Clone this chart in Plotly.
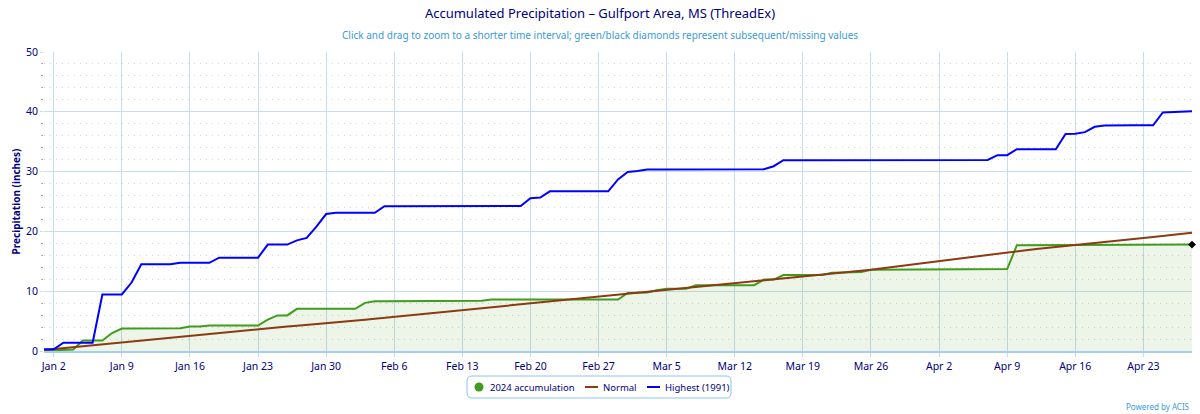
import pandas as pd
import plotly.graph_objects as go

start_date = "2024-01-01"
end_date = "2024-04-28"
dates = pd.date_range(start_date, end_date, freq="D")

accum_2024 = [
    0.05, 0.10, 0.25, 0.25, 1.75, 1.75, 1.75, 3.00, 3.75, 3.75,
    3.75, 3.75, 3.75, 3.75, 3.80, 4.10, 4.10, 4.25, 4.25, 4.25,
    4.25, 4.25, 4.25, 5.25, 5.95, 5.95, 7.05, 7.05, 7.05, 7.05,
    7.05, 7.05, 7.05, 8.05, 8.30, 8.30, 8.30, 8.30, 8.32, 8.33,
    8.35, 8.35, 8.35, 8.40, 8.40, 8.40, 8.60, 8.60, 8.60, 8.60,
    8.60, 8.60, 8.60, 8.60, 8.60, 8.60, 8.60, 8.60, 8.60, 8.60,
    9.70, 9.70, 9.80, 10.15, 10.40, 10.40, 10.40, 11.00, 11.00, 11.00,
    11.00, 11.00, 11.00, 11.00, 11.95, 11.95, 12.70, 12.70, 12.70, 12.70,
    12.70, 13.10, 13.15, 13.20, 13.20, 13.60, 13.60, 13.60, 13.60, 13.60,
    13.60, 13.60, 13.60, 13.60, 13.60, 13.60, 13.60, 13.65, 13.70, 13.70,
    17.70, 17.70, 17.70, 17.70, 17.70, 17.70, 17.70, 17.70, 17.70, 17.70,
    17.80, 17.80, 17.80, 17.80, 17.80, 17.80, 17.80, 17.80, 17.80,
]

normal = [
    0.17, 0.33, 0.50, 0.66, 0.83, 1.00, 1.16, 1.33, 1.50, 1.66,
    1.81, 1.97, 2.13, 2.28, 2.44, 2.60, 2.75, 2.91, 3.07, 3.22,
    3.38, 3.54, 3.70, 3.83, 3.96, 4.09, 4.22, 4.35, 4.48, 4.61,
    4.77, 4.92, 5.08, 5.24, 5.39, 5.55, 5.71, 5.86, 6.02, 6.18,
    6.33, 6.49, 6.65, 6.80, 6.96, 7.12, 7.27, 7.43, 7.59, 7.74,
    7.90, 8.06, 8.22, 8.39, 8.55, 8.71, 8.87, 9.04, 9.20, 9.36,
    9.52, 9.68, 9.85, 10.01, 10.17, 10.33, 10.49, 10.66, 10.82, 10.98,
    11.14, 11.30, 11.46, 11.63, 11.79, 11.95, 12.12, 12.28, 12.45, 12.61,
    12.78, 12.94, 13.11, 13.27, 13.44, 13.60, 13.81, 14.02, 14.23, 14.44,
    14.65, 14.86, 15.07, 15.28, 15.49, 15.70, 15.91, 16.12, 16.33, 16.54,
    16.72, 16.89, 17.07, 17.24, 17.42, 17.59, 17.77, 17.93, 18.09, 18.26,
    18.42, 18.58, 18.75, 18.91, 19.08, 19.25, 19.42, 19.59, 19.76,
]

highest_1991 = [
    0.30, 0.30, 1.40, 1.40, 1.40, 1.40, 9.45, 9.45, 9.45, 11.45,
    14.50, 14.50, 14.50, 14.50, 14.75, 14.75, 14.75, 14.75, 15.60, 15.60,
    15.60, 15.60, 15.60, 17.80, 17.80, 17.80, 18.50, 18.90, 20.80, 22.90,
    23.10, 23.10, 23.10, 23.10, 23.10, 24.20, 24.20, 24.20, 24.20, 24.20,
    24.20, 24.20, 24.22, 24.25, 24.25, 24.25, 24.25, 24.25, 24.25, 24.25,
    25.55, 25.65, 26.70, 26.70, 26.70, 26.70, 26.70, 26.70, 26.70, 28.70,
    29.95, 30.10, 30.35, 30.35, 30.35, 30.35, 30.35, 30.35, 30.35, 30.35,
    30.35, 30.35, 30.40, 30.40, 30.40, 30.90, 31.90, 31.90, 31.90, 31.90,
    31.90, 31.95, 31.95, 31.95, 31.95, 31.95, 31.95, 31.95, 31.95, 31.95,
    31.95, 31.95, 31.95, 31.95, 31.95, 31.95, 31.95, 31.95, 32.75, 32.75,
    33.75, 33.75, 33.75, 33.75, 33.75, 36.30, 36.35, 36.60, 37.50, 37.70,
    37.75, 37.75, 37.75, 37.75, 37.75, 39.90, 40.00, 40.05, 40.10,
]

series_names = ["2024 accumulation", "Normal", "Highest (1991)"]
series_colors = ["#3f9c1c", "#8b3a12", "#0000ff"]
y_ticks = [0, 10, 20, 30, 40, 50]

NAVY = "#000080"
GRID = "#c6dcef"
LIGHTBLUE = "#3a9ad9"
FONT = "Noto Sans, Open Sans, DejaVu Sans, sans-serif"

# plot-area geometry (pixels) used to place the hand-built legend box
L, R, T, B = 44, 1192, 52, 351


def px_x(px):
    return (px - L) / (R - L)


def px_y(py):
    return (B - py) / (B - T)


fig = go.Figure()

fig.add_trace(go.Scatter(
    x=dates, y=accum_2024, mode="lines", name=series_names[0],
    line=dict(color=series_colors[0], width=2), fill="tozeroy",
    fillcolor="rgba(80,160,40,0.11)",
))
fig.add_trace(go.Scatter(
    x=dates, y=normal, mode="lines", name=series_names[1],
    line=dict(color=series_colors[1], width=2),
))
fig.add_trace(go.Scatter(
    x=dates, y=highest_1991, mode="lines", name=series_names[2],
    line=dict(color=series_colors[2], width=2),
))
fig.add_trace(go.Scatter(
    x=[dates[-1]], y=[accum_2024[-1]], mode="markers", name="missing",
    marker=dict(color="black", size=6, symbol="diamond"), cliponaxis=False,
))

# legend (drawn as shapes + text to match the compact original layout)
bx0, bx1, by0, by1, r = 467, 731, 376, 398, 5
box_path = (
    f"M {px_x(bx0 + r)},{px_y(by0)} L {px_x(bx1 - r)},{px_y(by0)} "
    f"Q {px_x(bx1)},{px_y(by0)} {px_x(bx1)},{px_y(by0 + r)} "
    f"L {px_x(bx1)},{px_y(by1 - r)} Q {px_x(bx1)},{px_y(by1)} {px_x(bx1 - r)},{px_y(by1)} "
    f"L {px_x(bx0 + r)},{px_y(by1)} Q {px_x(bx0)},{px_y(by1)} {px_x(bx0)},{px_y(by1 - r)} "
    f"L {px_x(bx0)},{px_y(by0 + r)} Q {px_x(bx0)},{px_y(by0)} {px_x(bx0 + r)},{px_y(by0)} Z"
)
cy = 387
shapes = [
    dict(type="path", xref="paper", yref="paper", path=box_path,
         line=dict(color="#8cc4ea", width=1), fillcolor="white"),
    dict(type="circle", xref="paper", yref="paper",
         x0=px_x(474.5), x1=px_x(483.5), y0=px_y(cy + 4.5), y1=px_y(cy - 4.5),
         fillcolor=series_colors[0], line=dict(width=0)),
    dict(type="line", xref="paper", yref="paper",
         x0=px_x(585), x1=px_x(598), y0=px_y(cy), y1=px_y(cy),
         line=dict(color=series_colors[1], width=2)),
    dict(type="line", xref="paper", yref="paper",
         x0=px_x(647), x1=px_x(660), y0=px_y(cy), y1=px_y(cy),
         line=dict(color=series_colors[2], width=2)),
]
legend_text = [(488, series_names[0]), (601, series_names[1]), (663, series_names[2])]

annotations = [
    dict(
        text="Click and drag to zoom to a shorter time interval; green/black diamonds represent subsequent/missing values",
        xref="paper", yref="paper", x=px_x(600), y=1,
        xanchor="center", yanchor="middle", yshift=17, showarrow=False,
        font=dict(family=FONT, size=10, color=LIGHTBLUE),
    ),
    dict(
        text="Powered by ACIS", xref="paper", yref="paper", x=1, y=px_y(407),
        xanchor="right", yanchor="middle", showarrow=False,
        font=dict(family=FONT, size=8, color=LIGHTBLUE),
    ),
]
for lx, txt in legend_text:
    annotations.append(dict(
        text=txt, xref="paper", yref="paper", x=px_x(lx), y=px_y(cy),
        xanchor="left", yanchor="middle", showarrow=False,
        font=dict(family=FONT, size=9.5, color=NAVY),
    ))

fig.update_layout(
    width=1200, height=414,
    margin=dict(l=L, r=1200 - R, t=T, b=414 - B),
    paper_bgcolor="white", plot_bgcolor="white",
    font=dict(family=FONT, color=NAVY, size=10.5),
    title=dict(
        text="Accumulated Precipitation \u2013 Gulfport Area, MS (ThreadEx)",
        x=0.5, xref="container", xanchor="center",
        y=1 - 13 / 414, yanchor="middle",
        font=dict(family=FONT, size=13, color=NAVY),
    ),
    showlegend=False,
    shapes=shapes,
    annotations=annotations,
)

fig.update_xaxes(
    type="date", range=[start_date, end_date],
    tick0="2024-01-02", dtick=7 * 86400000, tickformat="%b %-d",
    showgrid=True, gridcolor=GRID, gridwidth=1,
    ticks="outside", ticklen=4, tickcolor=GRID,
    showline=True, linecolor="#a6cdee", linewidth=2,
    zeroline=False, tickfont=dict(family=FONT, size=10.5, color=NAVY),
    fixedrange=True,
)
fig.update_yaxes(
    range=[0, 50], tickvals=y_ticks,
    showgrid=True, gridcolor=GRID, gridwidth=1,
    ticks="outside", ticklen=3, tickcolor=GRID,
    minor=dict(dtick=2, showgrid=True, gridcolor="#d4d4d4", griddash="1px,5px",
               ticks="outside", ticklen=2, tickcolor="#aaaaaa"),
    showline=False, zeroline=False,
    title=dict(text="<b>Precipitation (inches)</b>", standoff=3,
               font=dict(family=FONT, size=10, color=NAVY)),
    tickfont=dict(family=FONT, size=10.5, color=NAVY),
    fixedrange=True,
)

fig.write_html("out.html")
